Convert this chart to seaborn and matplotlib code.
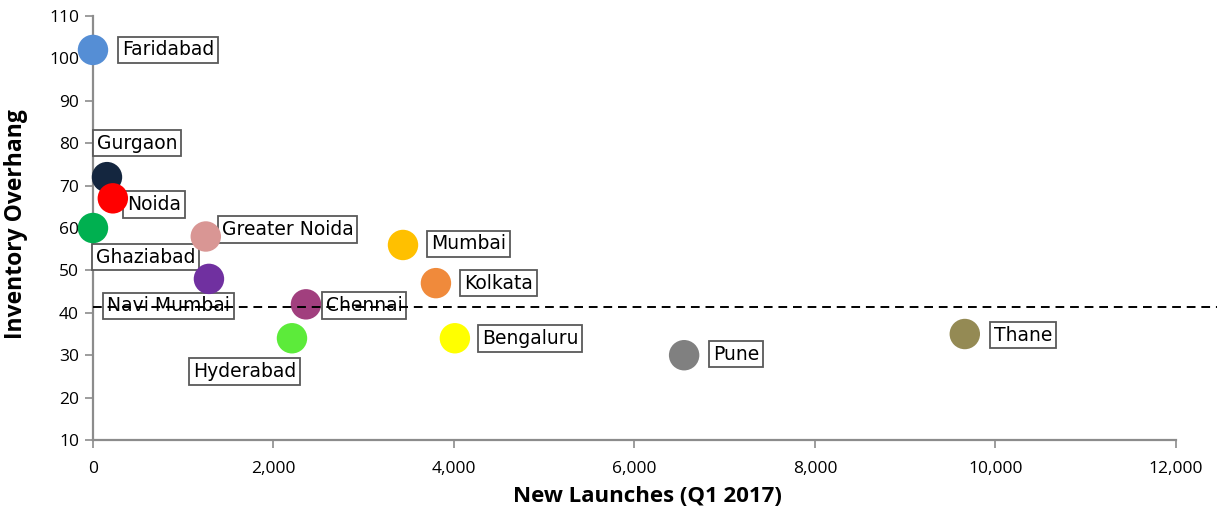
import matplotlib
matplotlib.use("Agg")
import matplotlib.pyplot as plt
import seaborn as sns
import pandas as pd
from matplotlib.ticker import FuncFormatter, MultipleLocator

# ---- data ----
cities = ["Faridabad", "Gurgaon", "Noida", "Ghaziabad", "Greater Noida",
          "Navi Mumbai", "Chennai", "Hyderabad", "Mumbai", "Kolkata",
          "Bengaluru", "Pune", "Thane"]
new_launches = [0, 155, 220, 0, 1250, 1285, 2360, 2205, 3435, 3800, 4010, 6550, 9660]
overhang = [102, 72, 67, 60, 58, 48, 42, 34, 56, 47, 34, 30, 35]
avg_overhang = 41.4
avg_line_x = [0, 12450]

# ---- styles ----
colors = ["#558ED5", "#14263F", "#FF0000", "#00B050", "#D99694",
          "#7030A0", "#A13F7E", "#5CEB3A", "#FFC000", "#F08A3B",
          "#FFFF00", "#808080", "#948A54"]
# label offsets in pixels (dx to left edge of text, dy of text centre)
offsets = {
    "Faridabad": (29, 0), "Gurgaon": (-10, 34), "Noida": (14, -6),
    "Ghaziabad": (3, -29), "Greater Noida": (16, 7), "Navi Mumbai": (-102, -27),
    "Chennai": (20, -1), "Hyderabad": (-99, -33), "Mumbai": (28, 1),
    "Kolkata": (28, 0), "Bengaluru": (27, 0), "Pune": (29, 1), "Thane": (29, -1),
}

sns.set_theme(style="white")
plt.rcParams["font.family"] = ["Open Sans", "DejaVu Sans"]

df = pd.DataFrame({"city": cities, "x": new_launches, "y": overhang})

fig = plt.figure(figsize=(12.17, 5.15), dpi=100)
ax = fig.add_axes([0.0764, 0.1456, 0.8899, 0.8233])

sns.scatterplot(data=df, x="x", y="y", hue="city", palette=colors,
                s=480, linewidth=0, legend=False, ax=ax, zorder=4, clip_on=False)

ax.plot(avg_line_x, [avg_overhang, avg_overhang], color="black", lw=1.4,
        ls=(0, (4.5, 3)), zorder=6, clip_on=False)

for c, xv, yv in zip(cities, new_launches, overhang):
    dx, dy = offsets[c]
    ax.annotate(c, (xv, yv), xytext=(dx, dy), textcoords="offset pixels",
                ha="left", va="center", fontsize=13.5, family=["DejaVu Sans"],
                color="black", zorder=3,
                bbox=dict(boxstyle="square,pad=0.2", fc="white", ec="#595959", lw=1.3))

ax.set_xlim(0, 12000)
ax.set_ylim(10, 110)
ax.xaxis.set_major_locator(MultipleLocator(2000))
ax.yaxis.set_major_locator(MultipleLocator(10))
ax.xaxis.set_major_formatter(FuncFormatter(lambda v, p: f"{int(v):,}"))

for s in ["top", "right"]:
    ax.spines[s].set_visible(False)
for s in ["left", "bottom"]:
    ax.spines[s].set_color("#8C8C8C")
    ax.spines[s].set_linewidth(1.6)
ax.tick_params(axis="both", which="major", direction="out", length=6, width=1.2,
               color="#8C8C8C", labelsize=12.5, labelcolor="black",
               left=True, bottom=True)
ax.tick_params(axis="x", pad=9)
ax.tick_params(axis="y", pad=4)

ax.set_xlabel("New Launches (Q1 2017)", fontsize=16, fontweight="bold", color="black")
ax.set_ylabel("Inventory Overhang", fontsize=16.5, fontweight="bold", color="black")
ax.xaxis.set_label_coords(0.5115, -0.108)
ax.yaxis.set_label_coords(-0.06, 0.51)

fig.savefig("out.png", dpi=100)
